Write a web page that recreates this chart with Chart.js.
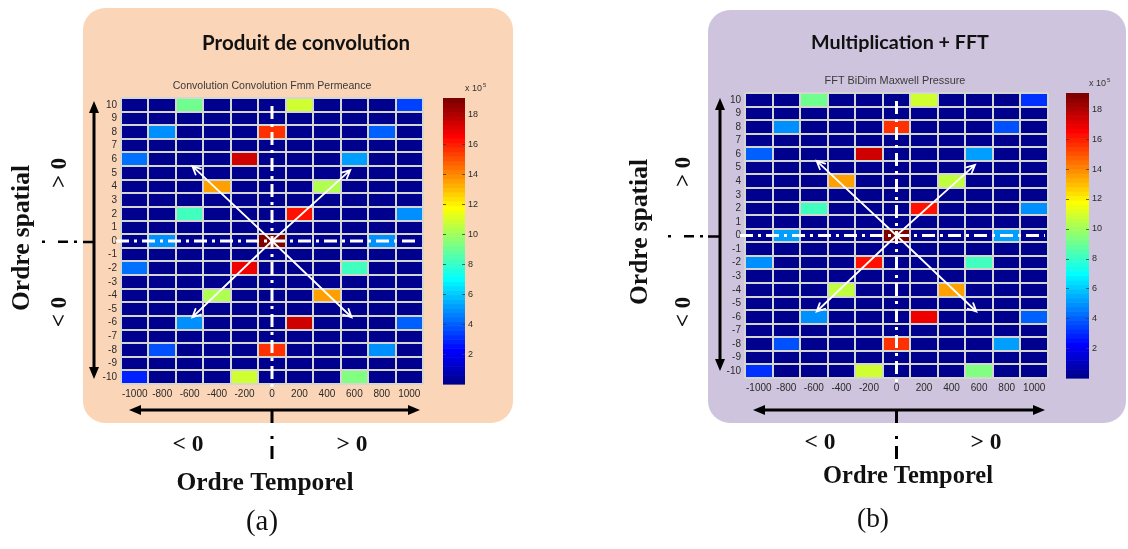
<!DOCTYPE html>
<html><head><meta charset="utf-8">
<script src="https://cdn.jsdelivr.net/npm/chart.js@4.4.1/dist/chart.umd.min.js"></script>
<style>
html,body{margin:0;padding:0;background:#fff;width:1128px;height:549px;overflow:hidden}
canvas{position:absolute;top:0}
#ca{left:0}#cb{left:564px}
</style></head><body>
<canvas id="ca" width="564" height="549"></canvas>
<canvas id="cb" width="564" height="549"></canvas>
<script>
// ---------- data ----------
const temporalOrders = ['-1000','-800','-600','-400','-200','0','200','400','600','800','1000'];
const spatialOrders = [10,9,8,7,6,5,4,3,2,1,0,-1,-2,-3,-4,-5,-6,-7,-8,-9,-10];
const colorbarTicks = [2,4,6,8,10,12,14,16,18];
const colorbarMax = 19.1;
// [temporal order, spatial order, value (x 10^5)] ; all other cells are 0
const convolutionCells = [
  [-600,10,9.0],[200,10,11.0],[1000,10,3.4],
  [-800,8,5.0],[0,8,15.6],[800,8,3.9],
  [-1000,6,4.2],[-200,6,17.6],[600,6,5.2],
  [-400,4,13.7],[400,4,10.3],
  [-600,2,8.3],[200,2,16.3],[1000,2,4.8],
  [-800,0,5.0],[0,0,19.0],[800,0,5.0],
  [-1000,-2,4.3],[-200,-2,16.8],[600,-2,8.3],
  [-400,-4,10.3],[400,-4,13.7],
  [-600,-6,5.0],[200,-6,17.6],[1000,-6,4.0],
  [-800,-8,3.8],[0,-8,15.6],[800,-8,5.0],
  [-1000,-10,2.9],[-200,-10,11.0],[600,-10,9.3]
];
const fftCells = [
  [-600,10,9.0],[200,10,11.0],[1000,10,3.0],
  [-800,8,4.8],[0,8,15.8],[800,8,3.6],
  [-1000,6,4.0],[-200,6,17.6],[600,6,5.2],
  [-400,4,13.5],[400,4,10.5],
  [-600,2,8.3],[200,2,16.2],[1000,2,4.8],
  [-800,0,5.2],[0,0,19.0],[800,0,5.2],
  [-1000,-2,4.8],[-200,-2,16.3],[600,-2,8.3],
  [-400,-4,10.5],[400,-4,13.7],
  [-600,-6,5.0],[200,-6,17.0],[1000,-6,4.0],
  [-800,-8,3.8],[0,-8,15.8],[800,-8,5.2],
  [-1000,-10,3.0],[-200,-10,11.0],[600,-10,9.3]
];
// diagonal arrow tips (temporal, spatial)
const arrowTips = [[-580,5.5],[570,5.2],[-580,-5.6],[580,-5.6]];

// ---------- helpers ----------
const LEVELS = 64;
function clamp(v){return Math.max(0,Math.min(1,v));}
function jetRGB(t){
  return [clamp(Math.min(4*t-1.5,-4*t+4.5)),clamp(Math.min(4*t-0.5,-4*t+3.5)),clamp(Math.min(4*t+0.5,-4*t+2.5))];
}
function jetLevel(k){ // MATLAB jet(64) entry k (0-based)
  const c = jetRGB((k+1)/LEVELS).map(x=>Math.round(x*255));
  return `rgb(${c[0]},${c[1]},${c[2]})`;
}
function jet(v){
  const k = Math.max(0, Math.min(LEVELS-1, Math.floor(v/colorbarMax*LEVELS)));
  return jetLevel(k);
}
function tIndex(t){ // fractional category index for a temporal order value
  return (t - (+temporalOrders[0])) / ((+temporalOrders[1]) - (+temporalOrders[0]));
}
function buildDatasets(cells){
  const lookup = {};
  cells.forEach(([t,s,v]) => { lookup[String(t)+'|'+s] = v; });
  return spatialOrders.map(s => ({
    label: 'ordre spatial ' + s,
    data: temporalOrders.map(() => [s-0.5, s+0.5]),
    backgroundColor: temporalOrders.map(t => jet(lookup[t+'|'+s] ?? 0)),
    borderWidth: 0,
    grouped: false,
    barPercentage: 1,
    categoryPercentage: 1,
    xAxisID: 'x',
    yAxisID: 'y'
  }));
}
function fitFont(ctx, text, weight, family, target){
  ctx.font = `${weight} 100px ${family}`;
  const w = ctx.measureText(text).width;
  return `${weight} ${(100*target/w).toFixed(2)}px ${family}`;
}
function drawText(ctx, text, x, y, target, weight, family, color, rot){
  ctx.save();
  ctx.font = fitFont(ctx, text, weight, family, target);
  ctx.fillStyle = color;
  ctx.textAlign = 'center';
  ctx.textBaseline = 'middle';
  ctx.translate(x, y);
  if (rot) ctx.rotate(rot);
  ctx.fillText(text, 0, 0);
  ctx.restore();
}
function filledHead(ctx, x, y, ang, len, wid){
  ctx.beginPath();
  ctx.moveTo(x, y);
  ctx.lineTo(x - len*Math.cos(ang) + wid/2*Math.sin(ang), y - len*Math.sin(ang) - wid/2*Math.cos(ang));
  ctx.lineTo(x - len*Math.cos(ang) - wid/2*Math.sin(ang), y - len*Math.sin(ang) + wid/2*Math.cos(ang));
  ctx.closePath();
  ctx.fill();
}
function blackDoubleArrow(ctx, x0, y0, x1, y1){
  const ang = Math.atan2(y1-y0, x1-x0);
  ctx.save();
  ctx.strokeStyle = '#000'; ctx.fillStyle = '#000'; ctx.lineWidth = 3;
  ctx.beginPath();
  ctx.moveTo(x0 + 8*Math.cos(ang), y0 + 8*Math.sin(ang));
  ctx.lineTo(x1 - 8*Math.cos(ang), y1 - 8*Math.sin(ang));
  ctx.stroke();
  filledHead(ctx, x1, y1, ang, 12, 10);
  filledHead(ctx, x0, y0, ang+Math.PI, 12, 10);
  ctx.restore();
}
function whiteArrow(ctx, x0, y0, x1, y1){
  const ang = Math.atan2(y1-y0, x1-x0);
  ctx.save();
  ctx.strokeStyle = '#fff'; ctx.lineWidth = 1.8; ctx.lineCap = 'round';
  ctx.beginPath(); ctx.moveTo(x0,y0); ctx.lineTo(x1,y1);
  const L = 9, a = 0.45;
  ctx.moveTo(x1 - L*Math.cos(ang-a), y1 - L*Math.sin(ang-a)); ctx.lineTo(x1,y1);
  ctx.lineTo(x1 - L*Math.cos(ang+a), y1 - L*Math.sin(ang+a));
  ctx.stroke();
  ctx.restore();
}
function roundRect(ctx, x0, y0, x1, y1, r){
  ctx.beginPath();
  ctx.moveTo(x0+r, y0);
  ctx.arcTo(x1, y0, x1, y1, r);
  ctx.arcTo(x1, y1, x0, y1, r);
  ctx.arcTo(x0, y1, x0, y0, r);
  ctx.arcTo(x0, y0, x1, y0, r);
  ctx.closePath();
}

const SERIF = '"Liberation Serif", "DejaVu Serif", serif';
const SANS = '"Liberation Sans", Arial, sans-serif';
const GRID = 'rgba(214,214,208,1)';

const decorPlugin = {
  id: 'decor',
  beforeDraw(chart){
    const L = chart.options.plugins.decor; const ctx = chart.ctx;
    ctx.save();
    ctx.fillStyle = L.bg;
    roundRect(ctx, L.box[0], L.box[1], L.box[2], L.box[3], 22);
    ctx.fill();
    ctx.restore();
  },
  afterDraw(chart){
    const L = chart.options.plugins.decor; const ctx = chart.ctx;
    const xs = chart.scales.x, ys = chart.scales.y, cb = chart.scales.cb;
    const area = chart.chartArea;
    // colorbar (MATLAB jet, 64 levels)
    const bx0 = area.right + L.cbOff[0], bx1 = area.right + L.cbOff[1];
    const top = cb.getPixelForValue(colorbarMax), bot = cb.getPixelForValue(0);
    for (let i = 0; i < LEVELS; i++){
      ctx.fillStyle = jetLevel(i);
      const ya = bot - (bot-top)*i/LEVELS, yb = bot - (bot-top)*(i+1)/LEVELS;
      ctx.fillRect(bx0, yb, bx1-bx0, ya-yb+0.6);
    }
    ctx.save();
    ctx.strokeStyle = 'rgba(60,60,60,0.8)'; ctx.lineWidth = 1;
    colorbarTicks.forEach(v => {
      const y = Math.round(cb.getPixelForValue(v)) + 0.5;
      ctx.beginPath(); ctx.moveTo(bx0, y); ctx.lineTo(bx0+3, y); ctx.moveTo(bx1-3, y); ctx.lineTo(bx1, y); ctx.stroke();
    });
    ctx.fillStyle = '#333'; ctx.textBaseline = 'middle'; ctx.textAlign = 'left';
    ctx.font = `9px ${SANS}`;
    ctx.fillText('x 10', bx1, top - 9);
    const w10 = ctx.measureText('x 10').width;
    ctx.font = `6px ${SANS}`;
    ctx.fillText('5', bx1 + w10 + 1, top - 13);
    ctx.restore();

    // titles
    drawText(ctx, L.title, L.titlePos[0], L.titlePos[1], L.titlePos[2], '700', 'Lato, "Open Sans", sans-serif', '#111');
    drawText(ctx, L.subtitle, L.subPos[0], L.subPos[1], L.subPos[2], '400', SANS, '#3a3a3a');

    // white dash-dot lines through order 0
    const x0 = xs.getPixelForValue(tIndex(0)), y0 = ys.getPixelForValue(0);
    ctx.save();
    ctx.strokeStyle = '#fff'; ctx.lineWidth = 3; ctx.setLineDash([13,5,3,5]);
    ctx.beginPath(); ctx.moveTo(x0, area.top + 8); ctx.lineTo(x0, area.bottom + 4); ctx.stroke();
    ctx.beginPath(); ctx.moveTo(area.left - 5, y0); ctx.lineTo(area.right - 3, y0); ctx.stroke();
    ctx.restore();
    arrowTips.forEach(([t,s]) => whiteArrow(ctx, x0, y0, xs.getPixelForValue(tIndex(t)), ys.getPixelForValue(s)));

    // black vertical arrow (ordre spatial)
    const va = L.vArrow;
    blackDoubleArrow(ctx, va.x, va.y0, va.x, va.y1);
    ctx.save();
    ctx.strokeStyle = '#000'; ctx.fillStyle = '#000'; ctx.lineWidth = 2.5;
    ctx.beginPath(); ctx.moveTo(va.tick0, y0 + 1); ctx.lineTo(va.x, y0 + 1); ctx.stroke();
    ctx.fillRect(va.dash0, y0 - 0.5, 3, 2.5);
    ctx.fillRect(va.dash0 + 16, y0 - 0.5, 10, 2.5);
    ctx.fillRect(va.dash0 + 32, y0 - 0.5, 3, 2.5);
    ctx.restore();
    drawText(ctx, 'Ordre spatial', L.spatial[0], L.spatial[1], L.spatial[2], '700', SERIF, '#111', -Math.PI/2);
    drawText(ctx, '> 0', L.spatialPos[0], L.spatialPos[1], 30, '700', SERIF, '#111', -Math.PI/2);
    drawText(ctx, '< 0', L.spatialPos[0], L.spatialPos[2], 30, '700', SERIF, '#111', -Math.PI/2);

    // black horizontal arrow (ordre temporel)
    const ha = L.hArrow;
    blackDoubleArrow(ctx, ha.x0, ha.y, ha.x1, ha.y);
    ctx.save();
    ctx.fillStyle = '#000';
    ctx.fillRect(x0 - 1.5, ha.y, 3, 13);
    ctx.fillRect(x0 - 1.5, ha.y + 26, 3, 3);
    ctx.fillRect(x0 - 1.5, ha.y + 36, 3, 13);
    ctx.restore();
    drawText(ctx, '< 0', L.tempNeg[0], L.tempNeg[1], 31, '700', SERIF, '#111');
    drawText(ctx, '> 0', L.tempPos[0], L.tempPos[1], 31, '700', SERIF, '#111');
    drawText(ctx, 'Ordre Temporel', L.temporal[0], L.temporal[1], L.temporal[2], '700', SERIF, '#111');
    drawText(ctx, L.letter, L.letterPos[0], L.letterPos[1], 32, '400', SERIF, '#111');
  }
};

function makeChart(id, cells, layout, pad, cbWidth, cbPad){
  const tickFont = {family: 'Liberation Sans', size: 10};
  return new Chart(document.getElementById(id), {
    type: 'bar',
    data: { labels: temporalOrders, datasets: buildDatasets(cells) },
    plugins: [decorPlugin],
    options: {
      responsive: false, animation: false,
      layout: { padding: pad },
      plugins: { legend: {display:false}, tooltip: {enabled:false}, decor: layout },
      scales: {
        x: { type:'category', labels: temporalOrders, offset: true,
             grid: {offset: true, color: GRID, lineWidth: 2, z: 1, drawTicks: false},
             border: {display:false},
             ticks: {font: tickFont, color:'#2a2a2a', padding: 4, maxRotation: 0, autoSkip: false},
             afterFit: s => { s.height = 20; } },
        y: { type:'linear', min:-10.5, max:10.5, position:'left',
             grid: {display:false, drawTicks:false}, border: {display:false},
             ticks: {font: tickFont, color:'#2a2a2a', padding: 4, autoSkip: false},
             afterBuildTicks: s => { s.ticks = spatialOrders.map(v => ({value: v})); },
             afterFit: s => { s.width = 30; } },
        yg: { type:'linear', min:-10.5, max:10.5, position:'left',
             grid: {color: GRID, lineWidth: 2, z: 1, drawTicks:false}, border: {display:false},
             ticks: {display:false, autoSkip: false},
             afterBuildTicks: s => { s.ticks = spatialOrders.map(v => ({value: v + 0.5})).concat([{value:-10.5}]); },
             afterFit: s => { s.width = 0; } },
        cb: { type:'linear', min:0, max: colorbarMax, position:'right',
             grid: {display:false, drawTicks:false}, border: {display:false},
             ticks: {font: {family: 'Liberation Sans', size: 9}, color:'#2a2a2a', padding: cbPad, autoSkip: false},
             afterBuildTicks: s => { s.ticks = colorbarTicks.map(v => ({value: v})); },
             afterFit: s => { s.width = cbWidth; } }
      }
    }
  });
}

makeChart('ca', convolutionCells, {
  bg: '#FAD5B8', box: [83, 8, 513, 423],
  title: 'Produit de convolution', titlePos: [306, 43, 208],
  subtitle: 'Convolution Convolution Fmm Permeance', subPos: [272, 86, 199],
  cbOff: [20, 42],
  vArrow: {x: 94, y0: 101, y1: 379, tick0: 83, dash0: 42},
  spatial: [22, 238, 146], spatialPos: [60, 173, 312],
  hArrow: {y: 410, x0: 129, x1: 420},
  tempNeg: [188, 445], tempPos: [352, 445], temporal: [265, 483, 177],
  letter: '(a)', letterPos: [262, 522]
}, {left: 91, right: 61, top: 98, bottom: 145}, 80, 45);

makeChart('cb', fftCells, {
  bg: '#CEC4DD', box: [144, 10, 562, 423],
  title: 'Multiplication + FFT', titlePos: [336, 43, 178],
  subtitle: 'FFT BiDim Maxwell Pressure', subPos: [331, 81, 141],
  cbOff: [18, 41],
  vArrow: {x: 156, y0: 98, y1: 371, tick0: 144, dash0: 104},
  spatial: [76, 232, 146], spatialPos: [120, 172, 312],
  hArrow: {y: 410, x0: 189, x1: 481},
  tempNeg: [256, 443], tempPos: [422, 443], temporal: [344, 477, 170],
  letter: '(b)', letterPos: [309, 520]
}, {left: 151, right: 10, top: 93, bottom: 151}, 70, 44);
</script>
</body></html>
